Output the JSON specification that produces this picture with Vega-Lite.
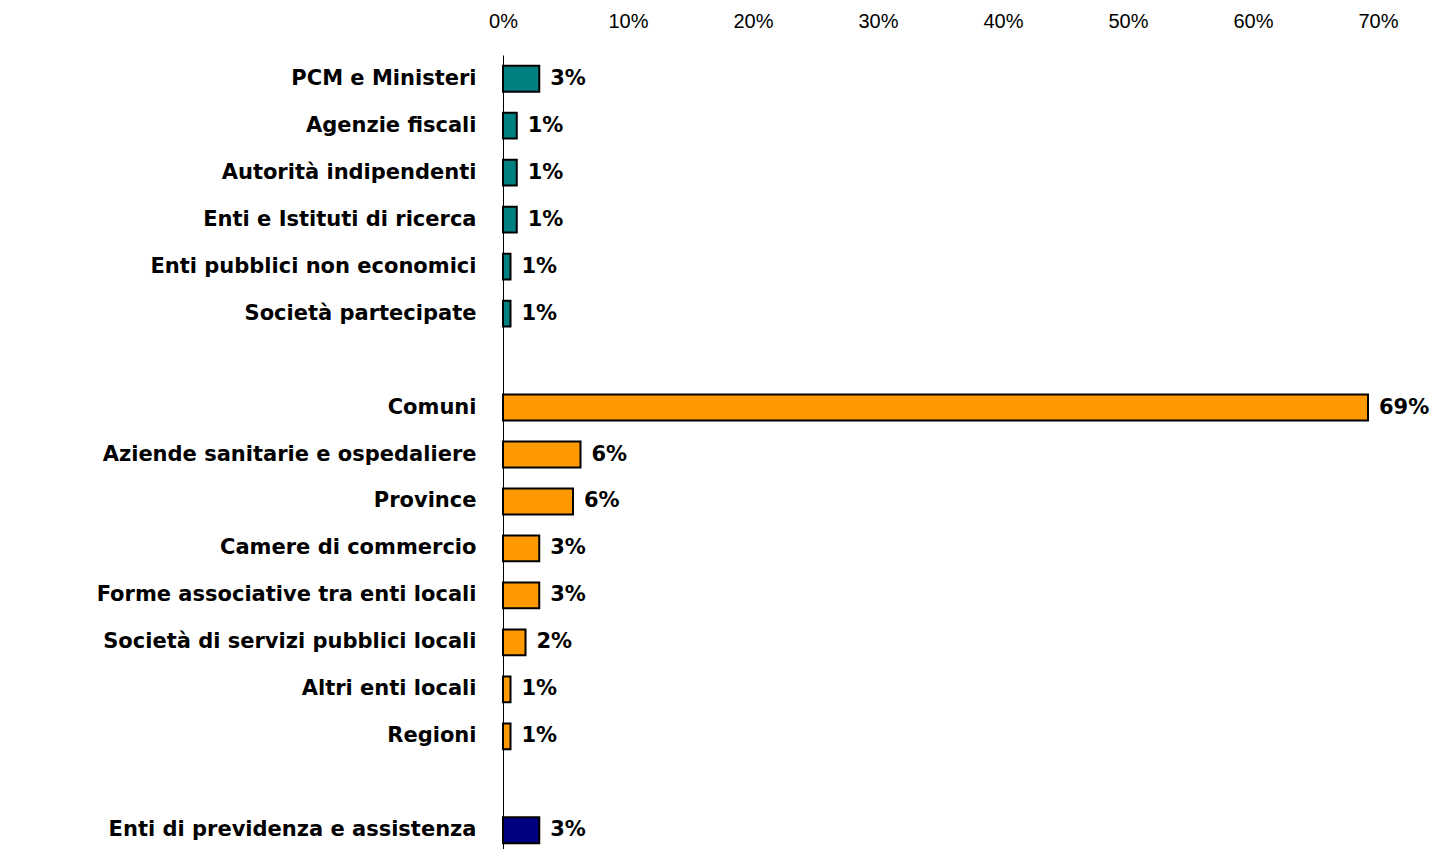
{
  "$schema": "https://vega.github.io/schema/vega-lite/v6.json",
  "width": 875,
  "height": 799,
  "autosize": {"type": "none"},
  "padding": {"left": 503, "top": 55, "right": 59, "bottom": 0},
  "background": "white",
  "config": {"view": {"stroke": null}},
  "data": {
    "values": [
      {"cat": "PCM e Ministeri", "group": "A", "value": 0.029},
      {"cat": "Agenzie fiscali", "group": "A", "value": 0.011},
      {"cat": "Autorità indipendenti", "group": "A", "value": 0.011},
      {"cat": "Enti e Istituti di ricerca", "group": "A", "value": 0.011},
      {"cat": "Enti pubblici non economici", "group": "A", "value": 0.006},
      {"cat": "Società partecipate", "group": "A", "value": 0.006},
      {"cat": "Comuni", "group": "B", "value": 0.692},
      {"cat": "Aziende sanitarie e ospedaliere", "group": "B", "value": 0.062},
      {"cat": "Province", "group": "B", "value": 0.056},
      {"cat": "Camere di commercio", "group": "B", "value": 0.029},
      {"cat": "Forme associative tra enti locali", "group": "B", "value": 0.029},
      {"cat": "Società di servizi pubblici locali", "group": "B", "value": 0.018},
      {"cat": "Altri enti locali", "group": "B", "value": 0.006},
      {"cat": "Regioni", "group": "B", "value": 0.006},
      {"cat": "Enti di previdenza e assistenza", "group": "C", "value": 0.029}
    ]
  },
  "encoding": {
    "y": {
      "field": "cat",
      "type": "nominal",
      "sort": null,
      "scale": {
        "domain": ["PCM e Ministeri", "Agenzie fiscali", "Autorità indipendenti", "Enti e Istituti di ricerca", "Enti pubblici non economici", "Società partecipate", " ", "Comuni", "Aziende sanitarie e ospedaliere", "Province", "Camere di commercio", "Forme associative tra enti locali", "Società di servizi pubblici locali", "Altri enti locali", "Regioni", "  ", "Enti di previdenza e assistenza"],
        "paddingInner": 0.45,
        "paddingOuter": 0.23
      },
      "axis": {
        "title": null,
        "ticks": false,
        "domain": true,
        "domainColor": "black",
        "domainWidth": 1,
        "labelPadding": 27,
        "labelFont": "DejaVu Sans",
        "labelFontSize": 21,
        "labelFontWeight": "bold",
        "labelColor": "black",
        "labelLimit": 0
      }
    },
    "x": {
      "field": "value",
      "type": "quantitative",
      "scale": {"domain": [0, 0.7], "nice": false},
      "axis": {
        "orient": "top",
        "title": null,
        "format": ".0%",
        "values": [0, 0.1, 0.2, 0.3, 0.4, 0.5, 0.6, 0.7],
        "grid": false,
        "ticks": false,
        "domain": false,
        "labelFlush": false,
        "labelPadding": 24,
        "labelFont": "Liberation Sans",
        "labelFontSize": 20,
        "labelColor": "black"
      }
    }
  },
  "layer": [
    {
      "mark": {"type": "bar", "stroke": "black", "strokeWidth": 2},
      "encoding": {
        "color": {
          "field": "group",
          "type": "nominal",
          "scale": {"domain": ["A", "B", "C"], "range": ["#008080", "#FF9900", "#000080"]},
          "legend": null
        }
      }
    },
    {
      "mark": {"type": "text", "align": "left", "baseline": "middle", "dx": 11, "dy": 0, "font": "DejaVu Sans", "fontSize": 21, "fontWeight": "bold", "color": "black"},
      "encoding": {
        "text": {"field": "value", "type": "quantitative", "format": ".0%"}
      }
    }
  ]
}
